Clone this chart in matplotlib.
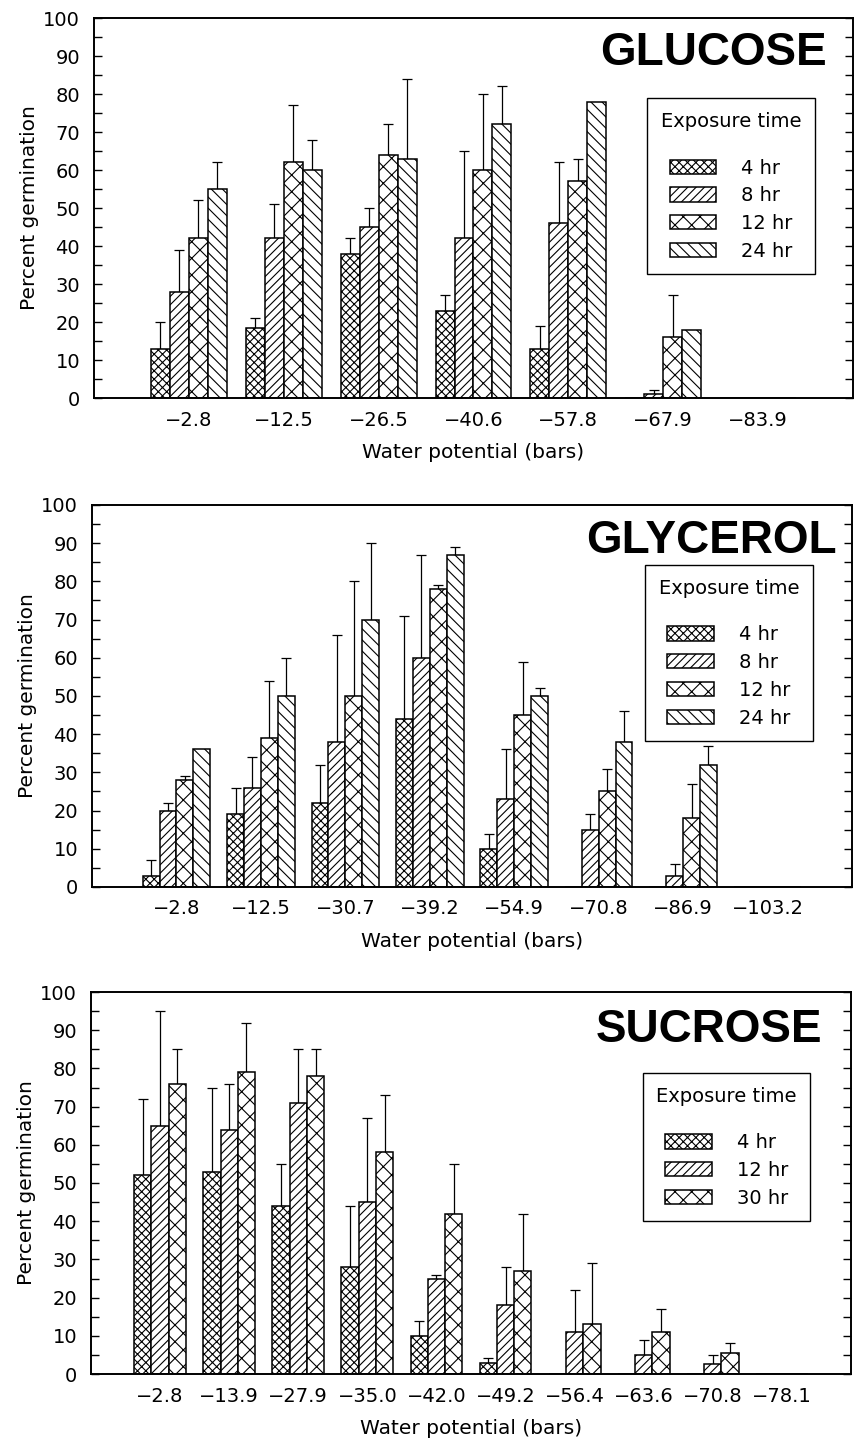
import numpy as np
import matplotlib.pyplot as plt
from matplotlib.ticker import MultipleLocator

plt.rcParams['font.family'] = ['DejaVu Sans']
plt.rcParams['hatch.linewidth'] = 0.8
plt.rcParams['axes.unicode_minus'] = True

# ---- data (percent germination, upper error-bar tops; nan = no bar) ----
glucose_x = ['\u22122.8', '\u221212.5', '\u221226.5', '\u221240.6', '\u221257.8', '\u221267.9', '\u221283.9']
glucose_times = ['4 hr', '8 hr', '12 hr', '24 hr']
glucose_vals = [[13, 18.5, 38, 23, 13, 0, 0],
                [28, 42, 45, 42, 46, 1, 0],
                [42, 62, 64, 60, 57, 16, 0],
                [55, 60, 63, 72, 78, 18, 0]]
glucose_tops = [[20, 21, 42, 27, 19, np.nan, np.nan],
                [39, 51, 50, 65, 62, 2, np.nan],
                [52, 77, 72, 80, 63, 27, np.nan],
                [62, 68, 84, 82, np.nan, np.nan, np.nan]]

glycerol_x = ['\u22122.8', '\u221212.5', '\u221230.7', '\u221239.2', '\u221254.9', '\u221270.8', '\u221286.9', '\u2212103.2']
glycerol_times = ['4 hr', '8 hr', '12 hr', '24 hr']
glycerol_vals = [[3, 19, 22, 44, 10, 0, 0, 0],
                 [20, 26, 38, 60, 23, 15, 3, 0],
                 [28, 39, 50, 78, 45, 25, 18, 0],
                 [36, 50, 70, 87, 50, 38, 32, 0]]
glycerol_tops = [[7, 26, 32, 71, 14, np.nan, np.nan, np.nan],
                 [22, 34, 66, 87, 36, 19, 6, np.nan],
                 [29, 54, 80, 79, 59, 31, 27, np.nan],
                 [np.nan, 60, 90, 89, 52, 46, 37, np.nan]]

sucrose_x = ['\u22122.8', '\u221213.9', '\u221227.9', '\u221235.0', '\u221242.0', '\u221249.2', '\u221256.4', '\u221263.6', '\u221270.8', '\u221278.1']
sucrose_times = ['4 hr', '12 hr', '30 hr']
sucrose_vals = [[52, 53, 44, 28, 10, 3, 0, 0, 0, 0],
                [65, 64, 71, 45, 25, 18, 11, 5, 2.5, 0],
                [76, 79, 78, 58, 42, 27, 13, 11, 5.5, 0]]
sucrose_tops = [[72, 75, 55, 44, 14, 4.3, np.nan, np.nan, np.nan, np.nan],
                [95, 76, 85, 67, 26, 28, 22, 9, 5, np.nan],
                [85, 92, 85, 73, 55, 42, 29, 17, 8, np.nan]]

hatch4 = ['xxxx', '////', 'xx', '\\\\\\']
hatch3 = ['xxxx', '////', 'xx']

W, H = 858, 1442
fig = plt.figure(figsize=(W / 100, H / 100), dpi=100)


def panel(rect, name, labels, times, vals, tops, hatches, width, name_pos, leg_pos):
    ax = fig.add_axes(rect)
    n = len(labels)
    k = len(times)
    x = np.arange(n)
    for j in range(k):
        off = (j - (k - 1) / 2) * width
        v = np.array(vals[j], dtype=float)
        t = np.array(tops[j], dtype=float)
        ax.bar(x + off, v, width, color='white', edgecolor='black',
               linewidth=1.1, hatch=hatches[j], label=times[j], zorder=2)
        m = ~np.isnan(t)
        ax.errorbar((x + off)[m], v[m], yerr=[np.zeros(m.sum()), (t - v)[m]],
                    fmt='none', ecolor='black', elinewidth=0.9, capsize=3.5,
                    capthick=0.9, zorder=1)
    ax.set_xlim(-1, n)
    ax.set_ylim(0, 100)
    ax.set_xticks(x)
    ax.set_xticklabels(labels, fontsize=14)
    ax.set_yticks(np.arange(0, 101, 10))
    ax.yaxis.set_minor_locator(MultipleLocator(5))
    ax.tick_params(axis='x', length=0, pad=9)
    ax.tick_params(axis='y', which='both', direction='in', left=True, right=True,
                   length=6, width=1, labelsize=14, pad=10)
    for s in ax.spines.values():
        s.set_linewidth(1.4)
    ax.set_ylabel('Percent germination', fontsize=14.5, labelpad=3)
    ax.set_xlabel('Water potential (bars)', fontsize=14.5, labelpad=10)
    ax.text(name_pos[0], name_pos[1], name, transform=ax.transAxes, ha='right',
            va='center', fontsize=33, fontweight='bold', family='Liberation Sans')
    leg = ax.legend(title='Exposure time', loc='upper left', bbox_to_anchor=leg_pos,
                    borderaxespad=0, fontsize=14, title_fontsize=14, frameon=True,
                    fancybox=False, edgecolor='black', framealpha=1,
                    handlelength=2.4, handleheight=0.75, handletextpad=1.3,
                    labelspacing=0.45, borderpad=0.7, alignment='center')
    leg.get_frame().set_linewidth(1.0)
    leg._legend_box.sep = 20
    return ax


def frac(l, r, t, b):
    return [l / W, 1 - b / H, (r - l) / W, (b - t) / H]


panel(frac(94, 853, 18, 398), 'GLUCOSE', glucose_x, glucose_times, glucose_vals,
      glucose_tops, hatch4, 0.2, (0.966, 0.908), (0.729, 0.789))
panel(frac(92, 852, 505, 887), 'GLYCEROL', glycerol_x, glycerol_times, glycerol_vals,
      glycerol_tops, hatch4, 0.2, (0.980, 0.905), (0.728, 0.843))
panel(frac(91, 851, 992, 1374), 'SUCROSE', sucrose_x, sucrose_times, sucrose_vals,
      sucrose_tops, hatch3, 0.25, (0.962, 0.90), (0.726, 0.788))

fig.savefig('out.png', dpi=100)
